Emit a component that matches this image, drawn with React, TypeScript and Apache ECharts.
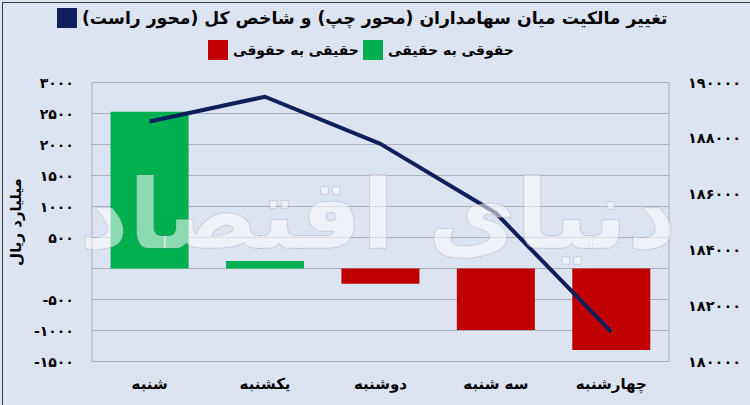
import React, { useEffect, useRef } from "react";
import * as echarts from "echarts";

const categories = ["شنبه", "یکشنبه", "دوشنبه", "سه شنبه", "چهارشنبه"];
const greenValues: (number | null)[] = [2530, 120, null, null, null];
const redValues: (number | null)[] = [null, null, -245, -990, -1315];
const indexValues = [188600, 189490, 187800, 185320, 181060];

const lineName = "تغییر مالکیت میان سهامداران (محور چپ) و شاخص کل (محور راست)\u200F";
const greenName = "حقوقی به حقیقی";
const redName = "حقیقی به حقوقی";
const leftAxisName = "میلیارد ریال";
const watermark = "دنیای اقتصاد";

const faDigits = "۰۱۲۳۴۵۶۷۸۹";
const toFa = (v: number) =>
  String(v).replace(/[0-9]/g, (d) => faDigits[Number(d)]);

const FONT = "DejaVu Sans";

const legendBase = {
  icon: "rect",
  itemWidth: 20,
  itemHeight: 20,
  itemGap: 6,
  padding: 0,
};

export default function App() {
  const ref = useRef<HTMLDivElement>(null);
  useEffect(() => {
    document.body.style.margin = "0";
    const chart = echarts.init(ref.current!, undefined, { renderer: "svg" });
    chart.setOption({
      animation: false,
      backgroundColor: "#dce3f1",
      textStyle: { fontFamily: FONT },
      legend: [
        {
          ...legendBase,
          data: [lineName],
          top: 8,
          left: 57,
          textStyle: { fontSize: 17.2, fontWeight: "bold", color: "#000", fontFamily: FONT },
        },
        {
          ...legendBase,
          data: [redName],
          top: 40,
          left: 208,
          textStyle: { fontSize: 14, fontWeight: "bold", color: "#000", fontFamily: FONT },
        },
        {
          ...legendBase,
          data: [greenName],
          top: 40,
          left: 363,
          textStyle: { fontSize: 14, fontWeight: "bold", color: "#000", fontFamily: FONT },
        },
      ],
      grid: { left: 83, right: 81, top: 82.5, bottom: 43.5, show: true, borderColor: "#a8aebb", borderWidth: 1 },
      xAxis: {
        type: "category",
        data: categories,
        axisLine: { show: false, onZero: false },
        axisTick: { show: false },
        axisLabel: { margin: 15, fontSize: 15, fontWeight: "bold", color: "#000", fontFamily: FONT },
      },
      yAxis: [
        {
          type: "value",
          min: -1500,
          max: 3000,
          interval: 500,
          name: leftAxisName,
          nameLocation: "middle",
          nameGap: 66,
          nameRotate: 90,
          nameTextStyle: { fontSize: 15, fontWeight: "bold", color: "#000", fontFamily: FONT },
          axisLine: { show: false },
          axisTick: { show: false },
          splitLine: { lineStyle: { color: "#a8aebb", width: 1 } },
          axisLabel: {
            margin: 18,
            fontSize: 14,
            fontWeight: "bold",
            color: "#000",
            fontFamily: FONT,
            formatter: (v: number) => (v === 0 ? "" : toFa(v)),
          },
        },
        {
          type: "value",
          min: 180000,
          max: 190000,
          interval: 2000,
          position: "right",
          axisLine: { show: false },
          axisTick: { show: false },
          splitLine: { show: false },
          axisLabel: {
            margin: 19,
            fontSize: 14.5,
            fontWeight: "bold",
            color: "#000",
            fontFamily: FONT,
            formatter: (v: number) => toFa(v),
          },
        },
      ],
      series: [
        {
          name: greenName,
          type: "bar",
          data: greenValues,
          barWidth: 78,
          barGap: "-100%",
          itemStyle: { color: "#00b050" },
        },
        {
          name: redName,
          type: "bar",
          data: redValues,
          barWidth: 78,
          barGap: "-100%",
          itemStyle: { color: "#c00000" },
        },
        {
          name: lineName,
          type: "line",
          yAxisIndex: 1,
          data: indexValues,
          showSymbol: false,
          symbol: "none",
          lineStyle: { color: "#0e1f5b", width: 4 },
          itemStyle: { color: "#0e1f5b" },
          z: 3,
        },
      ],
      graphic: [
        {
          type: "text",
          x: 378,
          y: 215,
          z: 100,
          silent: true,
          style: {
            text: watermark,
            fontSize: 96,
            fontWeight: "bold",
            fontFamily: FONT,
            align: "center",
            verticalAlign: "middle",
            fill: "rgba(255,255,255,0.55)",
            stroke: "rgba(110,110,130,0.3)",
            lineWidth: 1,
          },
        },
        {
          type: "rect",
          left: 0,
          top: 0,
          z: 101,
          silent: true,
          shape: { x: 0, y: 0, width: 749, height: 404 },
          style: { fill: "none", stroke: "#3a3a3a", lineWidth: 1 },
        },
      ],
    });
    return () => chart.dispose();
  }, []);
  return (
    <div
      ref={ref}
      style={{ position: "fixed", left: 0, top: 0, width: 750, height: 405 }}
    />
  );
}
